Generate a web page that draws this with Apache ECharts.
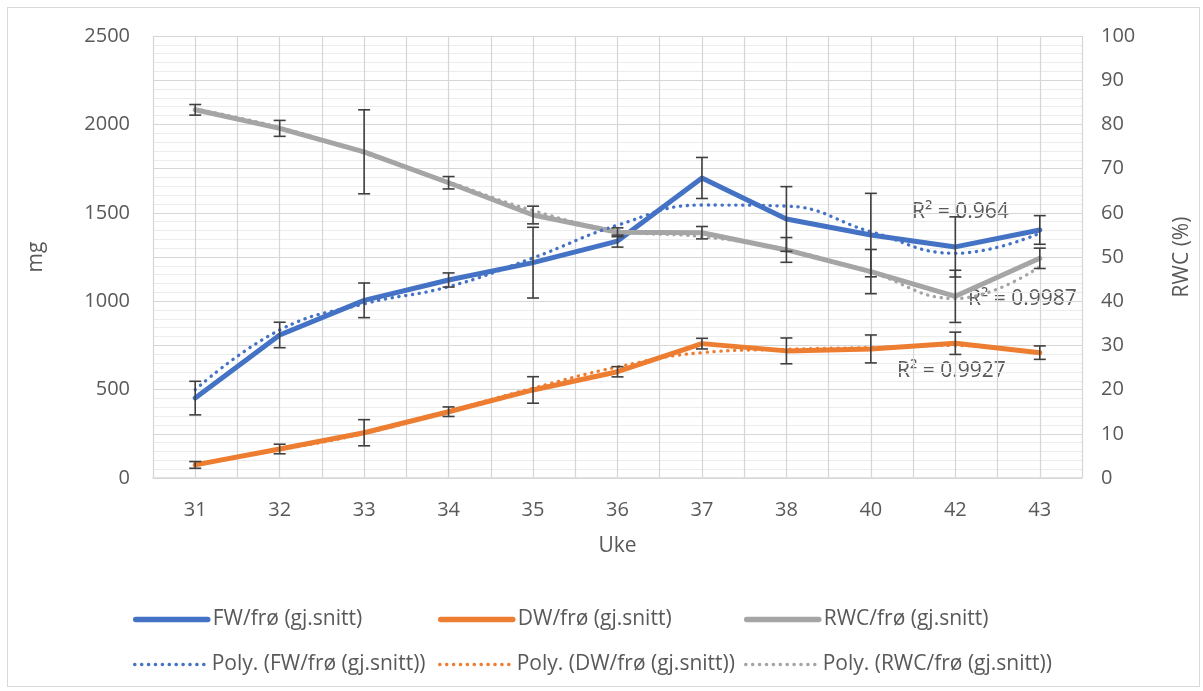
<!DOCTYPE html>
<html>
<head>
<meta charset="utf-8">
<script src="https://cdn.jsdelivr.net/npm/echarts@6/dist/echarts.min.js"></script>
<style>
  html, body { margin: 0; padding: 0; background: #fff; }
  #frame { position: absolute; left: 7px; top: 7px; width: 1191px; height: 678px; border: 1px solid #d9d9d9; }
  #chart { position: absolute; left: 0; top: 0; width: 1203px; height: 691px; }
</style>
</head>
<body>
<div id="frame"></div>
<div id="chart"></div>
<script>
// Weeks (Uke)
const weeks = ['31', '32', '33', '34', '35', '36', '37', '38', '40', '42', '43'];

// Fresh weight per seed, mg (mean) and error
const fw    = [452, 809, 1005, 1120, 1218, 1340, 1697, 1465, 1374, 1307, 1403];
const fwErr = [95, 72, 98, 40, 200, 34, 116, 183, 236, 170, 81];

// Dry weight per seed, mg (mean) and error
const dw    = [74, 164, 256, 375, 498, 601, 760, 719, 730, 762, 709];
const dwErr = [19, 27, 74, 27, 75, 29, 30, 73, 79, 63, 38];

// Relative water content, % (mean) and error
const rwc    = [83.3, 79.1, 73.8, 66.8, 59.5, 55.6, 55.5, 51.6, 46.7, 41.1, 49.7];
const rwcErr = [1.2, 1.8, 9.5, 1.4, 2.0, 1.0, 1.4, 2.8, 5.0, 5.9, 2.3];

// Polynomial trendlines at each week
const fwTrend  = [500, 837, 985, 1082, 1245, 1430, 1544, 1538, 1393, 1271, 1384];
const dwTrend  = [80, 160, 252, 378, 508, 628, 709, 728, 738, 750, 705];
const rwcTrend = [83.5, 79.3, 73.5, 67.0, 60.5, 56.0, 54.6, 51.7, 46.5, 40.6, 47.8];

// Axis ticks
const mgTicks  = { min: 0, max: 2500, step: 500 };
const rwcTicks = { min: 0, max: 100, step: 10 };

// Coefficients of determination shown next to the trendlines
const r2Labels = ['R² = 0.964', 'R² = 0.9987', 'R² = 0.9927'];

const names = {
  fw: 'FW/frø (gj.snitt)',
  dw: 'DW/frø (gj.snitt)',
  rwc: 'RWC/frø (gj.snitt)',
  fwP: 'Poly. (FW/frø (gj.snitt))',
  dwP: 'Poly. (DW/frø (gj.snitt))',
  rwcP: 'Poly. (RWC/frø (gj.snitt))'
};

const FONT = '"Open Sans", "Noto Sans", sans-serif';
const TXT = '#595959';
const COL = { fw: '#4472C4', dw: '#ED7D31', rwc: '#A5A5A5' };
const SOLID_W = 5;
const DOT_W = 3.3;
const DOTS = [0.3, 6.6];

function errorBars(name, values, errs, yIdx) {
  return {
    type: 'custom',
    name: name + ' err',
    yAxisIndex: yIdx,
    z: 6,
    silent: true,
    data: values.map((v, i) => [i, v, errs[i]]),
    encode: { x: 0, y: 1 },
    renderItem: function (params, api) {
      const i = api.value(0), v = api.value(1), e = api.value(2);
      const top = api.coord([i, v + e]);
      const bot = api.coord([i, v - e]);
      const hw = 6;
      const st = { stroke: '#3f3f3f', lineWidth: 1.6 };
      return {
        type: 'group',
        children: [
          { type: 'line', shape: { x1: top[0], y1: top[1], x2: bot[0], y2: bot[1] }, style: st },
          { type: 'line', shape: { x1: top[0] - hw, y1: top[1], x2: top[0] + hw, y2: top[1] }, style: st },
          { type: 'line', shape: { x1: bot[0] - hw, y1: bot[1], x2: bot[0] + hw, y2: bot[1] }, style: st }
        ]
      };
    }
  };
}

function solid(name, data, color, yIdx) {
  return {
    type: 'line', name: name, data: data, yAxisIndex: yIdx,
    symbol: 'none', z: 3,
    lineStyle: { color: color, width: SOLID_W, cap: 'round', join: 'round' },
    itemStyle: { color: color }
  };
}

function trend(name, data, color, yIdx) {
  return {
    type: 'line', name: name, data: data, yAxisIndex: yIdx,
    symbol: 'none', smooth: 0.45, z: 4,
    lineStyle: { color: color, width: DOT_W, type: DOTS, cap: 'round' },
    itemStyle: { color: color }
  };
}

// One legend per entry so the entries sit in fixed columns
function legendItem(name, left, top, dotted) {
  return {
    left: left, top: top, padding: 0,
    itemWidth: 72, itemHeight: 14,
    selectedMode: false,
    itemStyle: { opacity: 0 },
    lineStyle: dotted ? { width: DOT_W, type: DOTS, cap: 'round' } : { width: 5.5, cap: 'round' },
    textStyle: { color: TXT, fontSize: 21, fontFamily: FONT },
    data: [name]
  };
}

const chart = echarts.init(document.getElementById('chart'), null, { renderer: 'canvas' });

chart.setOption({
  backgroundColor: 'transparent',
  animation: false,
  textStyle: { fontFamily: FONT },
  grid: { left: 153, right: 121, top: 36, bottom: 213, containLabel: false },
  xAxis: [
    {
      type: 'category', data: weeks, boundaryGap: true,
      axisLine: { show: true, lineStyle: { color: '#d9d9d9', width: 1.5 } },
      axisTick: { show: false },
      axisLabel: { color: TXT, fontSize: 20, margin: 22, fontFamily: FONT },
      splitLine: { show: false },
      name: 'Uke', nameLocation: 'middle', nameGap: 58,
      nameTextStyle: { color: TXT, fontSize: 21, fontFamily: FONT }
    },
    {
      // vertical grid lines at week centres and between weeks
      type: 'value', min: -0.5, max: 10.5, interval: 0.5, position: 'bottom',
      axisLine: { show: false }, axisTick: { show: false }, axisLabel: { show: false },
      splitLine: { show: true, lineStyle: { color: '#d3d6dc', width: 1.2 } }
    }
  ],
  yAxis: [
    {
      type: 'value', min: mgTicks.min, max: mgTicks.max, interval: mgTicks.step,
      axisLine: { show: false }, axisTick: { show: false },
      axisLabel: { color: TXT, fontSize: 20, margin: 23, fontFamily: FONT, formatter: v => String(v) },
      splitLine: { show: false },
      minorTick: { show: false, splitNumber: 10 },
      minorSplitLine: { show: true, lineStyle: { color: '#ececec', width: 1 } },
      name: 'mg', nameLocation: 'middle', nameGap: 106, nameRotate: 90,
      nameTextStyle: { color: TXT, fontSize: 21, fontFamily: FONT }
    },
    {
      type: 'value', position: 'right', min: rwcTicks.min, max: rwcTicks.max, interval: rwcTicks.step,
      axisLine: { show: false }, axisTick: { show: false },
      axisLabel: { color: TXT, fontSize: 20, margin: 19, fontFamily: FONT, formatter: v => String(v) },
      splitLine: { show: true, lineStyle: { color: '#d6d6d6', width: 1.2 } },
      name: 'RWC (%)', nameLocation: 'middle', nameGap: 90, nameRotate: 90,
      nameTextStyle: { color: TXT, fontSize: 21, fontFamily: FONT }
    }
  ],
  legend: [
    legendItem(names.fw, 133, 609, false),
    legendItem(names.dw, 438, 609, false),
    legendItem(names.rwc, 744, 609, false),
    legendItem(names.fwP, 133, 654, true),
    legendItem(names.dwP, 438, 654, true),
    legendItem(names.rwcP, 744, 654, true)
  ],
  graphic: [
    { type: 'text', left: 912, top: 202, style: { text: r2Labels[0], fill: TXT, font: '21px ' + FONT } },
    { type: 'text', left: 968, top: 289, style: { text: r2Labels[1], fill: TXT, font: '21px ' + FONT } },
    { type: 'text', left: 897, top: 361, style: { text: r2Labels[2], fill: TXT, font: '21px ' + FONT } }
  ],
  series: [
    solid(names.fw, fw, COL.fw, 0),
    solid(names.dw, dw, COL.dw, 0),
    solid(names.rwc, rwc, COL.rwc, 1),
    trend(names.fwP, fwTrend, COL.fw, 0),
    trend(names.dwP, dwTrend, COL.dw, 0),
    trend(names.rwcP, rwcTrend, COL.rwc, 1),
    errorBars(names.fw, fw, fwErr, 0),
    errorBars(names.dw, dw, dwErr, 0),
    errorBars(names.rwc, rwc, rwcErr, 1)
  ]
});
</script>
</body>
</html>
